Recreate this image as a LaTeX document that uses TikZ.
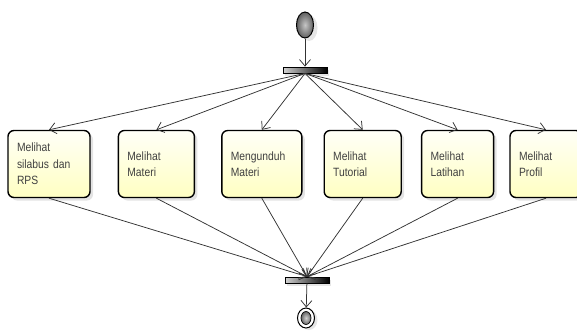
\documentclass[tikz,border=0pt]{standalone}
\usepackage{fontspec}
\newfontfamily\boxfont{Liberation Sans}[FakeStretch=0.86]
\usepackage{tikz}
\usetikzlibrary{shapes.geometric, arrows.meta, shadows, positioning}

\begin{document}
\begin{tikzpicture}[x=1pt, y=1pt]

\tikzstyle{activity} = [rectangle, rounded corners=6pt, minimum height=67pt, inner xsep=9pt, align=left, draw=black, line width=1.4pt, top color=yellow!3, bottom color=yellow!24, drop shadow={shadow xshift=3pt, shadow yshift=-3pt, opacity=0.22}, text=black!75, font={\boxfont\fontsize{12}{16.5}\selectfont}]
\tikzstyle{bar} = [rectangle, minimum width=44pt, minimum height=6pt, inner sep=0pt, draw=black, line width=0.8pt, left color=gray!35, right color=black, drop shadow={shadow xshift=2pt, shadow yshift=-3pt, opacity=0.2}]
\tikzstyle{startnode} = [ellipse, minimum width=17pt, minimum height=26pt, inner sep=0pt, draw=black, line width=1pt, inner color=gray!45, outer color=gray!75!black, drop shadow={shadow xshift=4pt, shadow yshift=-3pt, opacity=0.2}]
\tikzstyle{arrow} = [draw=black!80, line width=0.75pt, -{Straight Barb[length=6.5pt, width=11pt]}]

\useasboundingbox (0,0) rectangle (577,333);

\node (S) [startnode] at (305,308) {};
\node (P) [bar] at (305,263) {};

\node (A) [activity, text width=64pt] at (49,169) {Melihat\\silabus dan\\RPS};
\node (B) [activity, text width=58pt, right=27pt of A] {Melihat\\Materi};
\node (C) [activity, text width=62pt, right=26pt of B] {Mengunduh\\Materi};
\node (D) [activity, text width=59pt, right=21pt of C] {Melihat\\Tutorial};
\node (E) [activity, text width=54pt, right=19pt of D] {Melihat\\Latihan};
\node (F) [activity, text width=54pt, right=15pt of E] {Melihat\\Profil};

\node (Q) [bar] at (307,53) {};
\node (T) [ellipse, minimum width=17pt, minimum height=20pt, inner sep=0pt, draw=black, line width=1pt, fill=white, drop shadow={shadow xshift=3pt, shadow yshift=-2pt, opacity=0.2}] at (306,15) {};
\node (T2) [ellipse, minimum width=10pt, minimum height=13pt, inner sep=0pt, draw=black, line width=0.7pt, inner color=gray!35, outer color=gray!80!black] at (T) {};

\draw [arrow] (S) -- (P);
\draw [arrow] (P.south) -- (A.north);
\draw [arrow] (P.south) -- (B.north);
\draw [arrow] (P.south) -- (C.north);
\draw [arrow] (P.south) -- (D.north);
\draw [arrow] (P.south) -- (E.north);
\draw [arrow] (P.south) -- (F.north);

\draw [arrow] (A.south) -- (Q.north);
\draw [arrow] (B.south) -- (Q.north);
\draw [arrow] (C.south) -- (Q.north);
\draw [arrow] (D.south) -- (Q.north);
\draw [arrow] (E.south) -- (Q.north);
\draw [arrow] (F.south) -- (Q.north);
\draw [arrow] (Q) -- (T);

\end{tikzpicture}
\end{document}
